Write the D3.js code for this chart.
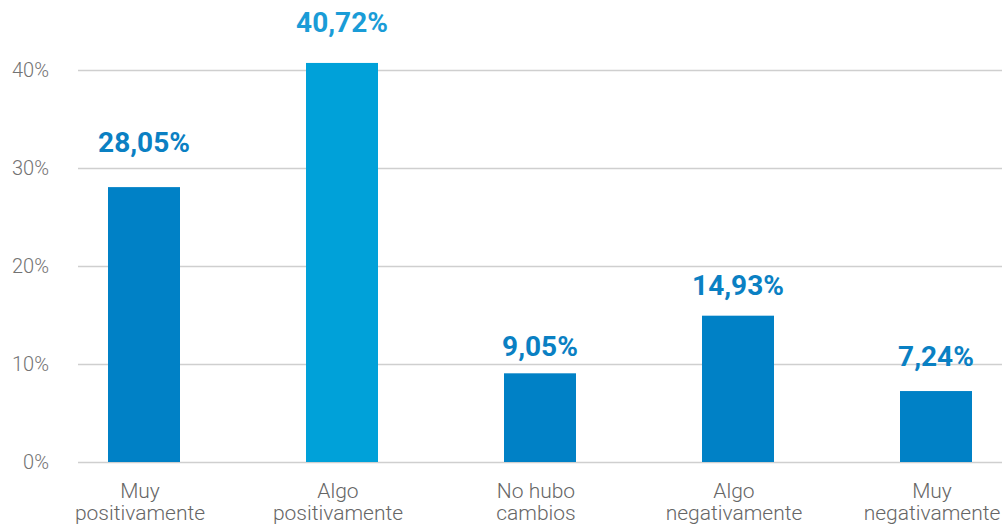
<!DOCTYPE html>
<html>
<head>
<meta charset="utf-8">
<script src="https://cdn.jsdelivr.net/npm/d3@7"></script>
<style>
  html, body { margin: 0; padding: 0; background: #fff; }
  svg { display: block; }
</style>
</head>
<body>
<svg id="chart" width="1002" height="524"></svg>
<script>
// Survey answers and their shares (%)
const categories = [
  ["Muy", "positivamente"],
  ["Algo", "positivamente"],
  ["No hubo", "cambios"],
  ["Algo", "negativamente"],
  ["Muy", "negativamente"]
];
const values = [28.05, 40.72, 9.05, 14.93, 7.24];
const valueLabels = ["28,05%", "40,72%", "9,05%", "14,93%", "7,24%"];
const yTicks = [0, 10, 20, 30, 40];
const yTickLabels = ["0%", "10%", "20%", "30%", "40%"];

// Bar fills: the second bar is highlighted in a lighter blue
const barColors = ["#0081C6", "#00A1D9", "#0081C6", "#0081C6", "#0081C6"];
const labelColors = ["#0A80C3", "#1A9CD7", "#0A80C3", "#0A80C3", "#0A80C3"];
// Vertical gap between each bar top and its value label baseline
const labelLift = [35, 31, 17, 21, 25];

const svg = d3.select("#chart");

const x = d3.scaleBand()
  .domain(d3.range(values.length))
  .range([45, 1035])
  .paddingInner(126 / 198)
  .paddingOuter(63 / 198);

const y = d3.scaleLinear().domain([0, 40]).range([462, 70]);

// Horizontal gridlines
svg.append("g")
  .selectAll("line")
  .data(yTicks)
  .join("line")
  .attr("x1", 78)
  .attr("x2", 1002)
  .attr("y1", d => y(d) + 0.5)
  .attr("y2", d => y(d) + 0.5)
  .attr("stroke", "#cfcfcf")
  .attr("stroke-width", 1.3);

// Y axis tick labels
svg.append("g")
  .selectAll("text")
  .data(yTicks)
  .join("text")
  .attr("x", 49)
  .attr("y", d => y(d) + 7)
  .attr("text-anchor", "end")
  .attr("font-family", "Roboto, sans-serif")
  .attr("font-weight", 300)
  .attr("font-size", 20)
  .attr("fill", "#737373")
  .text((d, i) => yTickLabels[i]);

// Bars
svg.append("g")
  .selectAll("rect")
  .data(values)
  .join("rect")
  .attr("x", (d, i) => x(i))
  .attr("width", x.bandwidth())
  .attr("y", d => y(d))
  .attr("height", d => y(0) - y(d))
  .attr("fill", (d, i) => barColors[i]);

// Value labels
svg.append("g")
  .selectAll("text")
  .data(values)
  .join("text")
  .attr("x", (d, i) => x(i) + x.bandwidth() / 2)
  .attr("y", (d, i) => y(d) - labelLift[i])
  .attr("text-anchor", "middle")
  .attr("font-family", "Roboto, sans-serif")
  .attr("font-weight", 700)
  .attr("font-size", 28)
  .attr("fill", (d, i) => labelColors[i])
  .text((d, i) => valueLabels[i]);

// Category labels (two lines each), set slightly left of the bar centre
const cat = svg.append("g")
  .selectAll("text")
  .data(categories)
  .join("text")
  .attr("text-anchor", "middle")
  .attr("font-family", "Roboto, sans-serif")
  .attr("font-weight", 300)
  .attr("font-size", 21)
  .attr("fill", "#666");

cat.selectAll("tspan")
  .data((d, i) => d.map(t => ({ t, i })))
  .join("tspan")
  .attr("x", d => x(d.i) + x.bandwidth() / 2 - 4)
  .attr("y", (d, j) => 498 + j * 22)
  .text(d => d.t);
</script>
</body>
</html>
